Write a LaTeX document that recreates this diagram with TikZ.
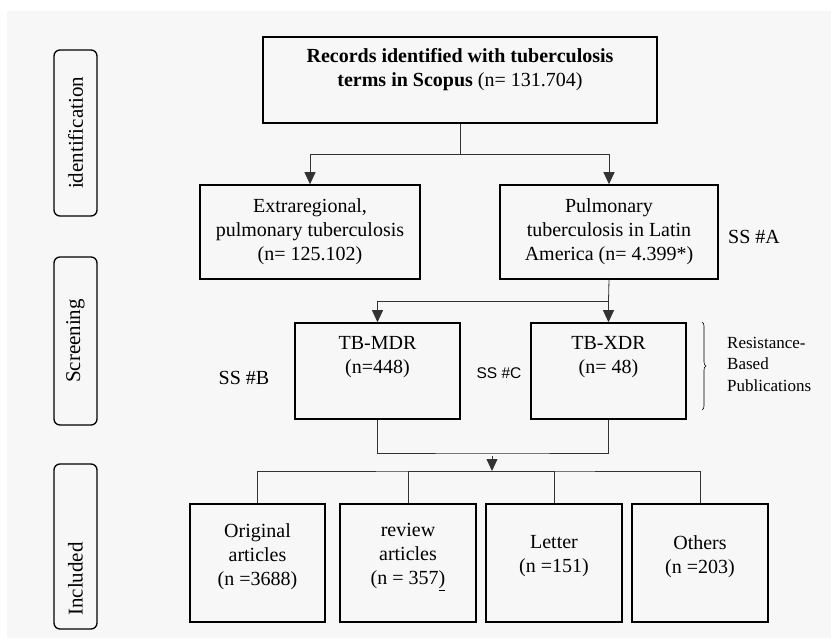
\documentclass[tikz,border=0pt]{standalone}
\usepackage{fontspec}
\setmainfont{Liberation Serif}
\newfontfamily\arialfont{Liberation Sans}
\usetikzlibrary{arrows.meta,decorations.pathreplacing}

\begin{document}
\begin{tikzpicture}[
x=1pt, y=-1pt, % pixel grid of the page
>={Triangle[length=12pt,width=11pt]},
box/.style={draw, line width=1.6pt, inner sep=0pt},
tag/.style={draw, line width=1.3pt, rounded corners=6pt, inner sep=0pt,
  minimum height=43pt, rotate=90, font=\fontsize{21}{24}\selectfont},
txt/.style={align=center, inner sep=0pt, font=\fontsize{20}{24}\selectfont},
link/.style={line width=0.8pt, draw=black!80}
]
\useasboundingbox (0,0) rectangle (831,638);
\fill[black!3] (7,11) rectangle (831,638);

% ================= Stage tags (left column) =================
\node[tag, minimum width=166pt] (ident) at (75.5,133) {identification};
\node[tag, minimum width=168pt] (screen) at (75.5,341) {Screening};
\node[tag, minimum width=165pt] (incl) at (75.5,546.5) {};
\node[txt, rotate=90, font=\fontsize{21}{24}\selectfont] (inclT) at (75.5,579) {Included};

% ================= Boxes =================
% Identification
\node[box, minimum width=394pt, minimum height=86pt] (rec) at (460,80) {};
\node[txt] (recT) at (460,70) {\textbf{Records identified with tuberculosis}\\
  \textbf{terms in Scopus} (n= 131.704)};

% Screening, first split
\node[box, minimum width=220pt, minimum height=94pt, txt] (extra) at (310,232)
  {Extraregional,\\ pulmonary tuberculosis\\ (n= 125.102)};
\node[box, minimum width=218pt, minimum height=94pt, txt] (pulm) at (609,232)
  {Pulmonary\\ tuberculosis in Latin\\ America (n= 4.399*)};
\node[txt] (ssA) at (754,237) {SS \#A};

% Screening, resistance split
\node[box, minimum width=165pt, minimum height=96pt] (mdr) at (377.5,371) {};
\node[txt] (mdrT) at (377.5,357) {TB-MDR\\ (n=448)};
\node[box, minimum width=155pt, minimum height=96pt] (xdr) at (608.5,371) {};
\node[txt] (xdrT) at (608.5,357) {TB-XDR\\ (n= 48)};
\node[txt] (ssB) at (244,378) {SS \#B};
\node[txt, font=\arialfont\fontsize{15.5}{18}\selectfont] (ssC) at (499,373) {SS \#C};
\node[align=left, anchor=west, inner sep=0pt, font=\fontsize{17}{21.5}\selectfont]
  (resist) at (727,364) {Resistance-\\ Based\\ Publications};

% Included
\node[box, minimum width=135pt, minimum height=118pt] (orig) at (257.5,563) {};
\node[txt] (origT) at (257.5,557) {Original\\ articles\\ (n =3688)};
\node[box, minimum width=136pt, minimum height=118pt] (review) at (408,563) {};
\node[txt] (reviewT) at (408,557) {review\\ articles\\ (n = 357\underline{)}};
\node[box, minimum width=136pt, minimum height=118pt] (letter) at (554,563) {};
\node[txt] (letterT) at (554,556.5) {Letter\\ (n =151)};
\node[box, minimum width=136pt, minimum height=118pt] (others) at (700,563) {};
\node[txt] (othersT) at (700,556.5) {Others\\ (n =203)};

% ================= Connectors =================
\coordinate (split1) at (460,154);
\coordinate (split2) at (608.5,301);
\coordinate (merge) at (492,453);
\coordinate (split3) at (492,471);

\draw[link] (rec) -- (split1);
\draw[link, ->] (split1) -| (extra);
\draw[link, ->] (split1) -| (pulm.north);

\draw[link] (pulm.south) -- (split2);
\draw[link, ->] (split2) -| (mdr);
\draw[link, ->] (split2) -- (xdr);

\draw[link] (mdr.south) |- (merge) -| (xdr.south);
\draw[link, ->, shorten <=3pt] (merge) -- (split3);

\draw[link] (orig.north) |- (split3) -| (others.north);
\draw[link] (split3) -| (review.north);
\draw[link] (split3) -| (letter.north);

% brace for the resistance group
\draw[line width=0.6pt, decorate, decoration={brace, amplitude=4pt}]
  (702,322) -- (702,410);

\end{tikzpicture}
\end{document}
